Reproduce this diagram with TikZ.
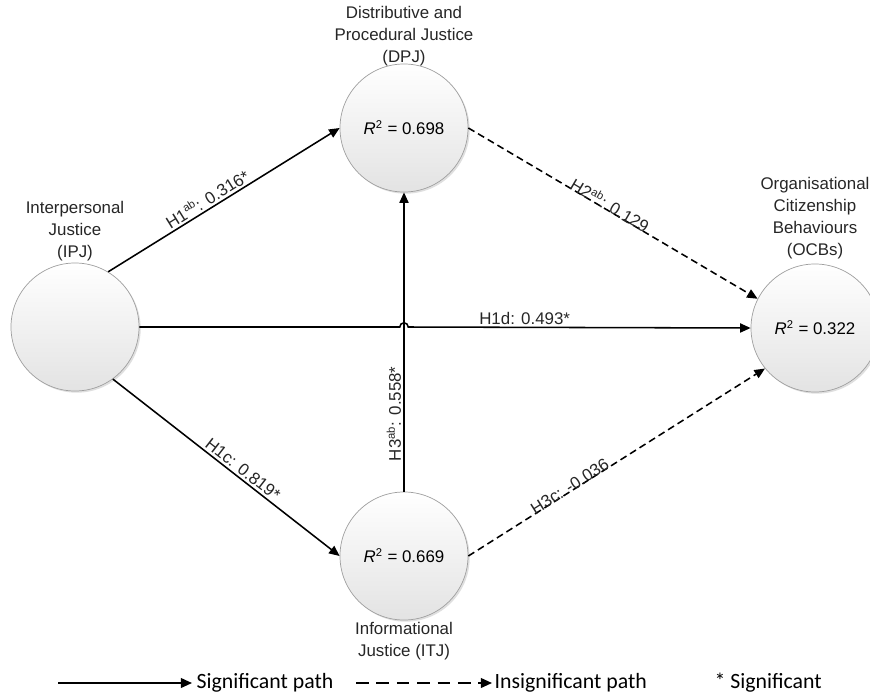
\documentclass[tikz,border=0pt]{standalone}
\usepackage{fontspec}
\setmainfont{Liberation Sans}
\newfontfamily\legendfont{Carlito}
\usetikzlibrary{arrows.meta,positioning,shadows}

\begin{document}
\begin{tikzpicture}[x=0.025cm,y=-0.025cm,
    latent/.style={circle, draw=gray!75, line width=0.5pt, top color=white, bottom color=gray!22,
      minimum size=3.2cm, inner sep=0pt, font=\fontsize{12}{15}\selectfont,
      drop shadow={shadow xshift=1.2pt, shadow yshift=-1.2pt, opacity=0.25}},
    caption/.style={align=center, font=\fontsize{12}{15.6}\selectfont, inner sep=1pt, text=black!85},
    sigpath/.style={line width=1.1pt, -{Triangle[length=7.5pt,width=6.5pt]}},
    insigpath/.style={sigpath, dash pattern=on 5pt off 3pt},
    pathlab/.style={font=\fontsize{12}{14}\selectfont, sloped, above, inner sep=1.5pt, text=black!85},
    legtxt/.style={font=\legendfont\fontsize{15.5}{18}\selectfont, inner sep=1pt, anchor=west}]

  \useasboundingbox (0,0) rectangle (870,699);

  % constructs
  \node[latent] (IPJ) at (75,327) {};
  \node[latent] (DPJ) at (404,128) {\textit{R}\textsuperscript{2} = 0.698};
  \node[latent] (OCB) at (815,328) {\textit{R}\textsuperscript{2} = 0.322};
  \node[latent] (ITJ) at (404,556) {\textit{R}\textsuperscript{2} = 0.669};

  \node[caption, above=0pt of IPJ] (IPJtxt) {Interpersonal\\Justice\\(IPJ)};
  \node[caption, above=-3pt of DPJ] (DPJtxt) {Distributive and\\Procedural Justice\\(DPJ)};
  \node[caption, above=2pt of OCB] (OCBtxt) {Organisational\\Citizenship\\Behaviours\\(OCBs)};
  \node[caption, below=0pt of ITJ] (ITJtxt) {Informational\\Justice (ITJ)};

  % paths
  \draw[sigpath] (IPJ.59) -- node[pathlab, pos=0.45] (h1ab) {H1\textsuperscript{ab}: 0.316*} (DPJ.west);
  \draw[sigpath] (IPJ.-54) -- node[pathlab, pos=0.55] (h1c) {H1c: 0.819*} (ITJ.west);
  \draw[sigpath] (ITJ.north) -- node[pathlab, pos=0.26] (h3ab) {H3\textsuperscript{ab}: 0.558*} (DPJ.south);
  \coordinate (hop) at (DPJ.south |- IPJ.east);
  \draw[sigpath] (IPJ.east) -- ([xshift=-3pt]hop) arc[start angle=180, end angle=0, radius=3pt]
    -- node[pathlab, pos=0.34] (h1d) {H1d: 0.493*} (OCB.west);
  \draw[insigpath] (DPJ.east) -- node[pathlab, above=-3pt, pos=0.48] (h2ab) {H2\textsuperscript{ab}: 0.129} (OCB.153);
  \draw[insigpath] (ITJ.east) -- node[pathlab, above=-3pt, pos=0.35] (h3c) {H3c: -0.036} (OCB.219);

  % legend
  \coordinate (sigA) at (58,683);
  \coordinate (sigB) at (192,683);
  \draw[line width=1.3pt, -{Triangle[length=8pt,width=7pt]}] (sigA) -- (sigB);
  \node[legtxt] (sigtxt) at (195,683) {Significant path};
  \coordinate (insA) at (356,683);
  \coordinate (insB) at (492,683);
  \draw[line width=1.3pt, dash pattern=on 9pt off 5.5pt, -{Triangle[length=8pt,width=7pt]}] (insA) -- (insB);
  \node[legtxt] (instxt) at (493,683) {Insignificant path};
  \node[legtxt] (startxt) at (713,683) {* Significant};

\end{tikzpicture}
\end{document}
